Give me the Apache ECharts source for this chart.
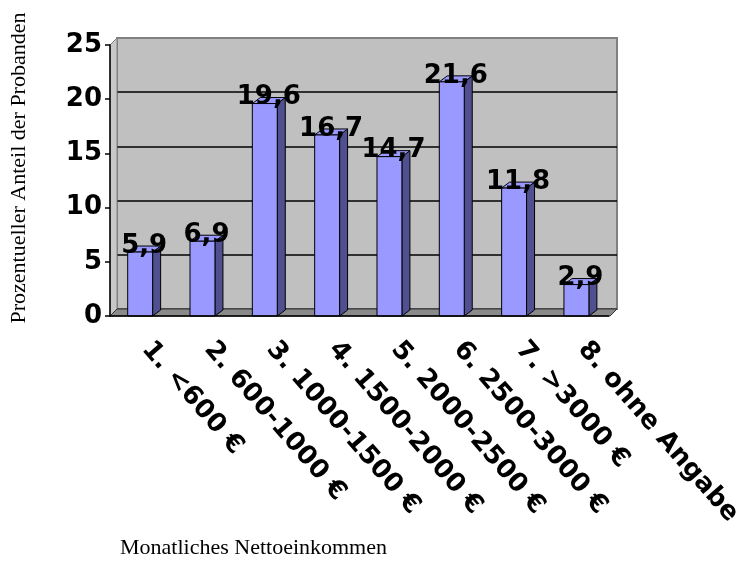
<!DOCTYPE html>
<html>
<head>
<meta charset="utf-8">
<script src="https://cdn.jsdelivr.net/npm/echarts@6/dist/echarts.min.js"></script>
<style>
  html, body { margin: 0; padding: 0; background: #fff; }
  #chart { width: 745px; height: 567px; }
</style>
</head>
<body>
<div id="chart"></div>
<script>
// Monatliches Nettoeinkommen - 3D Säulen (Excel-Stil)
const categories = ['1. <600 €', '2. 600-1000 €', '3. 1000-1500 €', '4. 1500-2000 €',
  '5. 2000-2500 €', '6. 2500-3000 €', '7. >3000 €', '8. ohne Angabe'];
const values = [5.9, 6.9, 19.6, 16.7, 14.7, 21.6, 11.8, 2.9];
const yMin = 0, yMax = 25, yStep = 5;

// front plane / depth
const L = 110, R = 610, T = 45, B = 316;
const DX = 7, DY = -7;      // wall depth
const BDX = 8, BDY = -6;    // bar depth

const numFont = 'DejaVu Sans';

const chart = echarts.init(document.getElementById('chart'));

const option = {
  backgroundColor: '#fff',
  animation: false,
  grid: [
    { left: L, right: 745 - R, top: T, bottom: 567 - B },
    {
      left: L + DX, right: 745 - R - DX, top: T + DY, bottom: 567 - B - DY,
      show: true, backgroundColor: '#c0c0c0', borderColor: '#808080', borderWidth: 2
    }
  ],
  xAxis: [
    {
      gridIndex: 0, type: 'category', data: categories, z: 5,
      axisLine: { lineStyle: { color: '#000', width: 1.5 } },
      axisTick: { length: 8, lineStyle: { color: '#000', width: 1.5 } },
      axisLabel: {
        interval: 0, rotate: -49, margin: 23, color: '#000', padding: [0, 0, 0, 8],
        fontFamily: numFont, fontWeight: 'bold', fontSize: 26
      }
    },
    { gridIndex: 1, type: 'category', data: categories, show: false }
  ],
  yAxis: [
    {
      gridIndex: 0, type: 'value', min: yMin, max: yMax, interval: yStep, z: 5,
      axisLine: { show: true, lineStyle: { color: '#000', width: 1.5 } },
      axisTick: { show: true, length: 5, lineStyle: { color: '#000', width: 1.5 } },
      splitLine: { show: false },
      axisLabel: { margin: 8, color: '#000', fontFamily: numFont, fontWeight: 'bold', fontSize: 26 }
    },
    {
      gridIndex: 1, type: 'value', min: yMin, max: yMax, interval: yStep,
      axisLine: { show: false }, axisTick: { show: false }, axisLabel: { show: false },
      splitLine: {
        show: true,
        lineStyle: { color: ['#555', '#000', '#000', '#000', '#000', '#808080'], width: 1.5 }
      }
    }
  ],
  graphic: [
    { // left side wall
      type: 'polygon', z: 1,
      shape: { points: [[L, T], [L + DX, T + DY], [L + DX, B + DY], [L, B]] },
      style: { fill: '#c8c8c8', stroke: '#808080', lineWidth: 1 }
    },
    { // floor
      type: 'polygon', z: 1,
      shape: { points: [[L, B], [L + DX, B + DY], [R + DX, B + DY], [R, B]] },
      style: { fill: '#8a8a8a', stroke: '#333', lineWidth: 1 }
    },
    {
      type: 'text', x: 19, y: 168, rotation: Math.PI / 2,
      style: {
        text: 'Prozentueller Anteil der Probanden', fontFamily: 'Liberation Serif', fontSize: 22,
        fill: '#000', align: 'center', verticalAlign: 'middle'
      }
    },
    {
      type: 'text', x: 120, y: 548,
      style: {
        text: 'Monatliches Nettoeinkommen', fontFamily: 'Liberation Serif', fontSize: 22,
        fill: '#000', align: 'left', verticalAlign: 'middle'
      }
    }
  ],
  series: [{
    type: 'custom',
    xAxisIndex: 0, yAxisIndex: 0, z: 3,
    data: values.map((v, i) => [i, v]),
    renderItem: function (params, api) {
      const base = api.coord([api.value(0), 0]);
      const top = api.coord([api.value(0), api.value(1)]);
      const w = api.size([1, 0])[0] * 0.4;
      const x0 = top[0] - w / 2 - 1, x1 = x0 + w;
      const ty = top[1], by = base[1];
      const txt = String(api.value(1)).replace('.', ',');
      return {
        type: 'group',
        children: [
          {
            type: 'polygon',
            shape: { points: [[x1, ty], [x1 + BDX, ty + BDY], [x1 + BDX, by + BDY], [x1, by]] },
            style: { fill: '#505090', stroke: '#000', lineWidth: 1 }
          },
          {
            type: 'polygon',
            shape: { points: [[x0, ty], [x0 + BDX, ty + BDY], [x1 + BDX, ty + BDY], [x1, ty]] },
            style: { fill: '#9999ff', stroke: '#000', lineWidth: 1 }
          },
          {
            type: 'rect',
            shape: { x: x0, y: ty, width: w, height: by - ty },
            style: { fill: '#9999ff', stroke: '#000', lineWidth: 1 }
          },
          {
            type: 'text',
            style: {
              text: txt, x: (x0 + x1) / 2 + 4, y: ty - 6, align: 'center', verticalAlign: 'middle',
              font: 'bold 26px "' + numFont + '"', fill: '#000'
            }
          }
        ]
      };
    }
  }]
};

chart.setOption(option);
</script>
</body>
</html>
